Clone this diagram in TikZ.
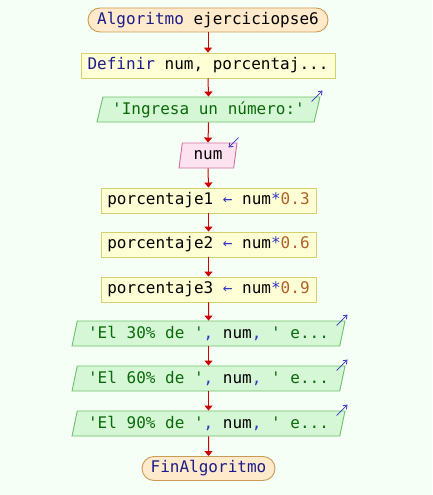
\documentclass[tikz,border=0pt]{standalone}
\usepackage{fontspec}
\setmonofont{DejaVu Sans Mono}
\usetikzlibrary{shapes.geometric,arrows.meta}

\definecolor{bgc}{HTML}{F6FFF6}
\definecolor{termfill}{HTML}{FFEBCC}
\definecolor{termline}{HTML}{CC9A55}
\definecolor{procfill}{HTML}{FFFFD6}
\definecolor{procline}{HTML}{D6CF6E}
\definecolor{outfill}{HTML}{D6F7D6}
\definecolor{outline}{HTML}{6CC06C}
\definecolor{infill}{HTML}{FFE2F0}
\definecolor{inline}{HTML}{CC6FA2}
\definecolor{flowred}{HTML}{D00000}
\definecolor{kwblue}{HTML}{1C1C8C}
\definecolor{opblue}{HTML}{3434C0}
\definecolor{strgreen}{HTML}{0A6A0A}
\definecolor{numbrown}{HTML}{B0602A}

\newcommand\kwd[1]{\textcolor{kwblue}{#1}}
\newcommand\opr[1]{\textcolor{opblue}{#1}}
\newcommand\strg[1]{\textcolor{strgreen}{#1}}
\newcommand\nmb[1]{\textcolor{numbrown}{#1}}

\tikzset{
  every node/.style={font=\ttfamily\fontsize{16}{18}\selectfont, inner sep=0pt},
  term/.style={draw=termline, fill=termfill, line width=0.9pt,
    rounded corners=12pt, minimum height=24pt},
  proc/.style={draw=procline, fill=procfill, line width=0.9pt,
    minimum height=25pt},
  para/.style={trapezium, trapezium left angle=70, trapezium right angle=110,
    trapezium stretches body, line width=0.9pt, minimum height=25pt},
  outbox/.style={para, draw=outline, fill=outfill},
  inbox/.style={para, draw=inline, fill=infill},
  flow/.style={draw=flowred, line width=1pt,
    -{Triangle[length=5pt,width=8pt]}},
  iomark/.style={draw=opblue, line width=0.8pt,
    -{Straight Barb[length=3.5pt,width=5pt]}}
}

\begin{document}
\begin{tikzpicture}[x=1pt,y=-1pt]
\fill[bgc] (0,0) rectangle (432,495);
\useasboundingbox (0,0) rectangle (432,495);

\node[term, minimum width=240pt] (start) at (208,20) {\kwd{Algoritmo} ejerciciopse6};
\node[proc, minimum width=254pt] (def) at (208,65.5) {\kwd{Definir} num, porcentaj...};
\node[outbox, minimum width=223pt] (ask) at (208.5,109.5) {\strg{'Ingresa un número:'}};
\node[inbox, minimum width=58pt] (read) at (208,155.5) {num};
\node[proc, minimum width=215pt] (p1) at (208.5,200.5) {porcentaje1 \opr{←} num\opr{*}\nmb{0.3}};
\node[proc, minimum width=215pt] (p2) at (208.5,244.5) {porcentaje2 \opr{←} num\opr{*}\nmb{0.6}};
\node[proc, minimum width=215pt] (p3) at (208.5,289.5) {porcentaje3 \opr{←} num\opr{*}\nmb{0.9}};
\node[outbox, minimum width=273pt] (o1) at (208.5,333.5) {\strg{'El 30\% de '}\opr{,} num\opr{,} \strg{' e...}};
\node[outbox, minimum width=273pt] (o2) at (208.5,378.5) {\strg{'El 60\% de '}\opr{,} num\opr{,} \strg{' e...}};
\node[outbox, minimum width=273pt] (o3) at (208.5,423.5) {\strg{'El 90\% de '}\opr{,} num\opr{,} \strg{' e...}};
\node[term, minimum width=133pt] (stop) at (208.5,468.5) {\kwd{FinAlgoritmo}};

% control flow
\draw[flow] (start.south) -- (def.north);
\draw[flow] (def.south) -- (ask.north);
\draw[flow] (ask.south) -- (read.north);
\draw[flow] (read.south) -- (p1.north);
\draw[flow] (p1.south) -- (p2.north);
\draw[flow] (p2.south) -- (p3.north);
\draw[flow] (p3.south) -- (o1.north);
\draw[flow] (o1.south) -- (o2.north);
\draw[flow] (o2.south) -- (o3.north);
\draw[flow] (o3.south) -- (stop.north);

% output / input markers
\foreach \n in {ask,o1,o2,o3}
  \draw[iomark] ([shift={(-9,5)}]\n.top right corner) -- ([shift={(2,-6)}]\n.top right corner);
\draw[iomark] ([shift={(1,-5)}]read.top right corner) -- ([shift={(-9,5)}]read.top right corner);
\end{tikzpicture}
\end{document}
